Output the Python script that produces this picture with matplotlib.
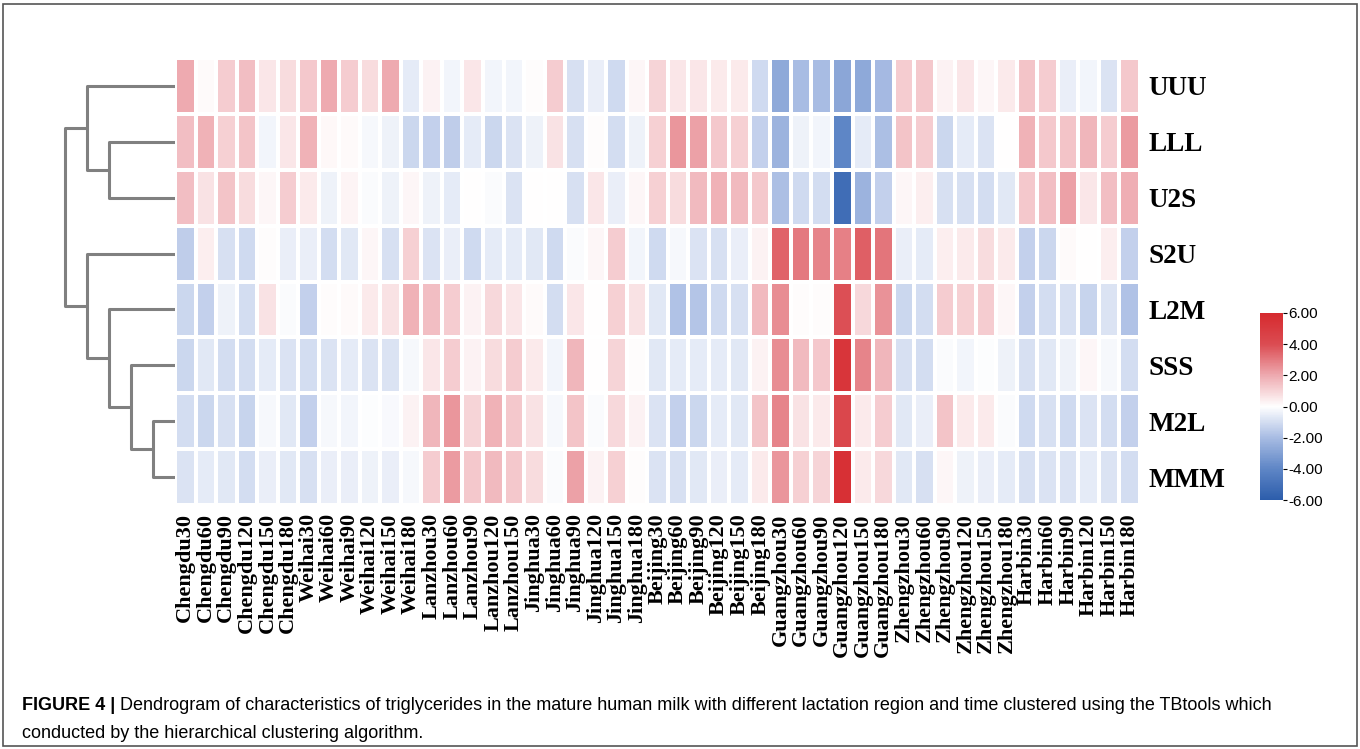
import matplotlib
matplotlib.use("Agg")
import matplotlib.pyplot as plt
import numpy as np
from matplotlib.colors import LinearSegmentedColormap
from matplotlib.ticker import FormatStrFormatter
from matplotlib.patches import Rectangle

# colonnes (Lanzhou n'a pas de 180)
samples = ["Chengdu30", "Chengdu60", "Chengdu90", "Chengdu120", "Chengdu150", "Chengdu180",
           "Weihai30", "Weihai60", "Weihai90", "Weihai120", "Weihai150", "Weihai180",
           "Lanzhou30", "Lanzhou60", "Lanzhou90", "Lanzhou120", "Lanzhou150",
           "Jinghua30", "Jinghua60", "Jinghua90", "Jinghua120", "Jinghua150", "Jinghua180",
           "Beijing30", "Beijing60", "Beijing90", "Beijing120", "Beijing150", "Beijing180",
           "Guangzhou30", "Guangzhou60", "Guangzhou90", "Guangzhou120", "Guangzhou150", "Guangzhou180",
           "Zhengzhou30", "Zhengzhou60", "Zhengzhou90", "Zhengzhou120", "Zhengzhou150", "Zhengzhou180",
           "Harbin30", "Harbin60", "Harbin90", "Harbin120", "Harbin150", "Harbin180"]
rows = ["UUU", "LLL", "U2S", "S2U", "L2M", "SSS", "M2L", "MMM"]

# valeurs (z-scores)
uuu = [2.0, 0.1, 1.2, 1.5, 0.6, 0.8, 1.3, 2.0, 1.2, 0.8,
       2.0, -0.6, 0.3, -0.3, 0.6, -0.3, -0.3, 0.05, 1.2, -0.9,
       -0.5, -1.1, 0.2, 1.0, 0.6, 0.6, 0.5, 0.5, -1.1, -2.7,
       -2.0, -2.0, -2.8, -2.7, -2.1, 1.2, 1.3, 0.3, 0.6, 0.2,
       0.5, 1.4, 1.2, -0.5, -0.3, -0.8, 1.3]
lll = [1.5, 1.8, 1.1, 1.4, -0.3, 0.6, 1.8, 0.15, 0.1, -0.2,
       -0.4, -1.2, -1.4, -1.5, -0.6, -1.2, -0.8, -0.4, 0.7, -0.9,
       0.05, -1.0, -0.4, 1.1, 2.4, 2.2, 1.3, 1.1, -1.4, -2.3,
       -0.4, -0.3, -4.0, -0.6, -1.9, 1.4, 1.2, -1.2, -0.6, -0.8,
       0.0, 1.8, 1.3, 1.4, 1.7, 1.2, 2.3]
u2s = [1.5, 0.7, 1.4, 0.8, 0.2, 1.2, 0.5, -0.4, 0.25, -0.1,
       -0.4, 0.2, -0.4, -0.6, 0.0, -0.1, -0.8, 0.0, 0.0, -0.9,
       0.6, -0.5, 0.2, 1.1, 0.8, 1.6, 1.8, 1.6, 1.3, -1.9,
       -1.1, -1.0, -5.2, -2.3, -1.4, 0.2, 0.4, -0.9, -0.9, -1.0,
       -0.7, 1.3, 1.5, 2.2, 0.6, 1.5, 1.9]
s2u = [-1.5, 0.4, -0.9, -1.1, 0.05, -0.5, -0.5, -1.0, -0.7, 0.2,
       -0.9, 1.1, -0.8, -0.5, -1.1, -0.6, -0.6, -0.7, -1.1, -0.1,
       0.2, 1.2, -0.3, -1.1, -0.2, -0.8, -0.9, -0.5, 0.3, 3.5,
       3.0, 2.8, 2.9, 3.6, 3.1, -0.5, -0.6, 0.4, 0.5, 0.8,
       0.5, -1.4, -1.2, 0.1, 0.0, 0.4, -1.4]
l2m = [-1.2, -1.4, -0.4, -1.0, 0.7, -0.1, -1.4, 0.05, 0.1, 0.5,
       0.7, 1.8, 1.5, 1.2, 0.3, 0.9, 0.6, 0.1, -1.0, 0.6,
       0.0, 1.1, 0.7, -0.7, -1.8, -1.7, -1.1, -0.9, 1.6, 2.6,
       0.05, 0.05, 3.9, 0.9, 2.5, -1.2, -1.0, 1.2, 1.1, 1.2,
       0.2, -1.4, -1.0, -0.9, -1.3, -0.8, -1.8]
sss = [-1.2, -0.7, -1.0, -1.0, -0.6, -0.8, -1.0, -0.8, -0.6, -0.8,
       -0.8, -0.2, 0.6, 1.2, 0.3, 0.8, 1.2, 0.5, -0.3, 1.7,
       0.0, 1.0, 0.05, -0.7, -0.6, -0.6, -0.6, -0.7, 0.3, 2.6,
       1.6, 1.3, 5.3, 2.8, 1.7, -0.9, -1.0, -0.1, -0.3, -0.05,
       -0.4, -0.9, -0.7, -0.4, 0.2, -0.2, -1.0]
m2l = [-1.0, -1.2, -0.9, -1.3, -0.2, -0.7, -1.4, -0.2, -0.3, -0.05,
       -0.15, 0.3, 1.7, 2.4, 1.0, 1.8, 1.3, 0.7, -0.2, 1.4,
       -0.1, 0.9, 0.3, -0.8, -1.4, -1.2, -0.6, -0.7, 1.4, 2.8,
       0.7, 0.5, 4.3, 0.5, 1.2, -0.7, -0.5, 1.4, 0.5, 0.5,
       -0.1, -1.1, -0.9, -1.1, -0.8, -1.0, -1.4]
mmm = [-0.8, -0.6, -0.7, -1.0, -0.5, -0.7, -0.9, -0.5, -0.5, -0.4,
       -0.5, -0.2, 1.2, 2.3, 1.3, 1.6, 1.3, 0.8, -0.1, 2.2,
       0.3, 1.1, 0.05, -0.8, -0.9, -0.7, -0.5, -0.6, 0.5, 2.4,
       1.1, 1.0, 5.6, 0.5, 0.9, -0.7, -0.9, 0.2, -0.4, -0.5,
       -0.6, -0.9, -0.8, -0.8, -0.6, -0.8, -1.0]

# fusions du dendrogramme : (a, b, niveau), nouveaux ids à partir de 8
merges = [(6, 7, 1), (5, 8, 2), (4, 9, 3), (3, 10, 4),
          (1, 2, 3), (0, 12, 4), (13, 11, 5)]

data = np.array([uuu, lll, u2s, s2u, l2m, sss, m2l, mmm])
cmap = LinearSegmentedColormap.from_list(
    "tb", [(0, "#2c5dab"), (1 / 6, "#5f86c6"), (2 / 6, "#a8bce3"), (0.5, "#ffffff"),
           (4 / 6, "#eeaab0"), (5 / 6, "#db4c52"), (1, "#d62a2e")])

fig = plt.figure(figsize=(13.6, 7.49), dpi=100)
W, H = 1360, 749

def fbox(x0, y0, x1, y1):
    return [x0 / W, 1 - y1 / H, (x1 - x0) / W, (y1 - y0) / H]

# carte de chaleur
ax = fig.add_axes(fbox(175, 58, 1140, 505))
mesh = ax.pcolormesh(data, cmap=cmap, vmin=-6, vmax=6,
                     edgecolors="white", linewidth=1.6)
ax.set_xlim(0, len(samples))
ax.set_ylim(len(rows), 0)
ax.set_xticks(np.arange(len(samples)) + 0.5)
ax.set_xticklabels(samples, rotation=90, fontsize=16, fontweight="bold",
                   family="Liberation Serif")
ax.set_yticks(np.arange(len(rows)) + 0.5)
ax.set_yticklabels(rows, fontsize=19.5, fontweight="bold", family="Liberation Serif")
ax.yaxis.tick_right()
ax.tick_params(length=0)
ax.tick_params(axis="x", pad=6)
ax.tick_params(axis="y", pad=6)
for s in ax.spines.values():
    s.set_visible(False)

# dendrogramme
axd = fig.add_axes(fbox(54, 58, 175, 505))
pos = {i: i + 0.5 for i in range(len(rows))}
hgt = {i: 0 for i in range(len(rows))}
for k, (a, b, h) in enumerate(merges):
    axd.plot([hgt[a], h, h, hgt[b]], [pos[a], pos[a], pos[b], pos[b]],
             color="#808080", lw=2.2, solid_capstyle="butt")
    pos[8 + k] = (pos[a] + pos[b]) / 2
    hgt[8 + k] = h
axd.set_xlim(5.5, 0)
axd.set_ylim(len(rows), 0)
axd.axis("off")

# barre de couleur
cax = fig.add_axes(fbox(1260, 313, 1283, 500))
cb = fig.colorbar(mesh, cax=cax, ticks=[-6, -4, -2, 0, 2, 4, 6])
cb.ax.yaxis.set_major_formatter(FormatStrFormatter("%.2f"))
cb.outline.set_visible(False)
cb.ax.tick_params(labelsize=11, length=3, width=0.8, pad=1)
for t in cb.ax.get_yticklabels():
    t.set_family("Liberation Sans")

# légende de la figure
t1 = fig.text(22 / W, 1 - 705 / H, "FIGURE 4 |", fontsize=13, fontweight="bold",
              family="Liberation Sans", va="center")
fig.canvas.draw()
bb = t1.get_window_extent()
fig.text((bb.x1 + 5) / W, 1 - 705 / H,
         "Dendrogram of characteristics of triglycerides in the mature human milk with different "
         "lactation region and time clustered using the TBtools which",
         fontsize=13, family="Liberation Sans", va="center")
fig.text(22 / W, 1 - 733 / H, "conducted by the hierarchical clustering algorithm.",
         fontsize=13, family="Liberation Sans", va="center")

# cadre
fig.patches.append(Rectangle((3 / W, 3 / H), 1 - 6 / W, 1 - 7 / H, transform=fig.transFigure,
                             fill=False, edgecolor="#555555", lw=1.2))

plt.savefig("out.png", dpi=100)
